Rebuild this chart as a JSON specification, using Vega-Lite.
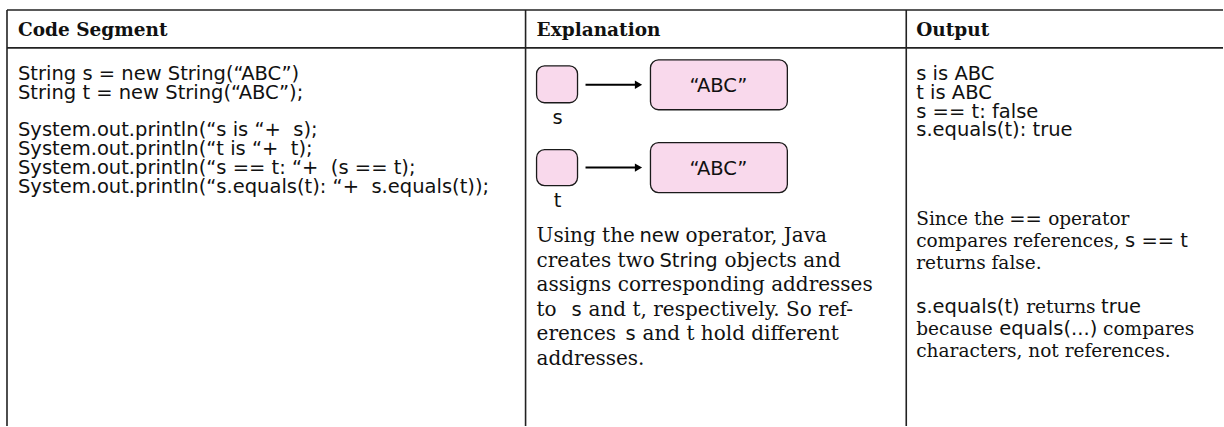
{
  "$schema": "https://vega.github.io/schema/vega-lite/v6.json",
  "width": 1224,
  "height": 427,
  "padding": 0,
  "autosize": {"type": "fit", "contains": "padding"},
  "background": "white",
  "config": {"view": {"stroke": null}},
  "datasets": {
    "grid": [
      {"x": 7, "x2": 1224, "y": 10, "y2": 10},
      {"x": 7, "x2": 1224, "y": 48, "y2": 48},
      {"x": 7, "x2": 7, "y": 10, "y2": 427},
      {"x": 526, "x2": 526, "y": 10, "y2": 427},
      {"x": 907, "x2": 907, "y": 10, "y2": 427}
    ],
    "boxes": [
      {"x": 537, "x2": 578, "y": 66, "y2": 103, "kind": "ref"},
      {"x": 537, "x2": 578, "y": 150, "y2": 186, "kind": "ref"},
      {"x": 651, "x2": 788, "y": 60, "y2": 110, "kind": "obj"},
      {"x": 651, "x2": 788, "y": 143, "y2": 193, "kind": "obj"}
    ],
    "arrows": [
      {"x": 586, "x2": 636, "y": 85, "hx": 639},
      {"x": 586, "x2": 636, "y": 168, "hx": 639}
    ],
    "texts": [
      {"x": 18, "y": 36, "text": "Code Segment", "role": "head"},
      {"x": 537, "y": 36, "text": "Explanation", "role": "head"},
      {"x": 917, "y": 36, "text": "Output", "role": "head"},
      {"x": 18, "y": 80, "text": "String s = new String(“ABC”)", "role": "code"},
      {"x": 18, "y": 99, "text": "String t = new String(“ABC”);", "role": "code"},
      {"x": 18, "y": 136, "text": "System.out.println(“s is “+\u00a0 s);", "role": "code"},
      {"x": 18, "y": 155, "text": "System.out.println(“t is “+\u00a0 t);", "role": "code"},
      {"x": 18, "y": 174, "text": "System.out.println(“s == t: “+\u00a0 (s == t);", "role": "code"},
      {"x": 18, "y": 193, "text": "System.out.println(“s.equals(t): “+\u00a0 s.equals(t));", "role": "code"},
      {"x": 917, "y": 80, "text": "s is ABC", "role": "code"},
      {"x": 917, "y": 99, "text": "t is ABC", "role": "code"},
      {"x": 917, "y": 118, "text": "s == t: false", "role": "code"},
      {"x": 917, "y": 136, "text": "s.equals(t): true", "role": "code"},
      {"x": 719, "y": 92, "text": "“ABC”", "role": "label"},
      {"x": 719, "y": 175, "text": "“ABC”", "role": "label"},
      {"x": 558, "y": 124, "text": "s", "role": "label"},
      {"x": 558, "y": 207, "text": "t", "role": "label"},
      {"x": 537, "y": 243, "text": "Using the", "role": "para"},
      {"x": 640, "y": 243, "text": "new", "role": "paraCode"},
      {"x": 686, "y": 243, "text": "operator, Java", "role": "para"},
      {"x": 537, "y": 268, "text": "creates two", "role": "para"},
      {"x": 660, "y": 268, "text": "String", "role": "paraCode"},
      {"x": 725, "y": 268, "text": "objects and", "role": "para"},
      {"x": 537, "y": 292, "text": "assigns corresponding addresses", "role": "para"},
      {"x": 537, "y": 317, "text": "to", "role": "para"},
      {"x": 572, "y": 317, "text": "s", "role": "paraCode"},
      {"x": 589, "y": 317, "text": "and t, respectively. So ref-", "role": "para"},
      {"x": 537, "y": 341, "text": "erences", "role": "para"},
      {"x": 626, "y": 341, "text": "s", "role": "paraCode"},
      {"x": 643, "y": 341, "text": "and t hold different", "role": "para"},
      {"x": 537, "y": 366, "text": "addresses.", "role": "para"},
      {"x": 917, "y": 226, "text": "Since the", "role": "note"},
      {"x": 1010, "y": 226, "text": "==", "role": "noteCode"},
      {"x": 1049, "y": 226, "text": "operator", "role": "note"},
      {"x": 917, "y": 248, "text": "compares references,", "role": "note"},
      {"x": 1126, "y": 248, "text": "s == t", "role": "noteCode"},
      {"x": 917, "y": 270, "text": "returns false.", "role": "note"},
      {"x": 917, "y": 314, "text": "s.equals(t)", "role": "noteCode"},
      {"x": 1027, "y": 314, "text": "returns", "role": "note"},
      {"x": 1102, "y": 314, "text": "true", "role": "noteCode"},
      {"x": 917, "y": 336, "text": "because", "role": "note"},
      {"x": 1000, "y": 336, "text": "equals(...)", "role": "noteCode"},
      {"x": 1104, "y": 336, "text": "compares", "role": "note"},
      {"x": 917, "y": 358, "text": "characters, not references.", "role": "note"}
    ]
  },
  "layer": [
    {
      "data": {"name": "grid"},
      "mark": {"type": "rule", "stroke": "#222222", "strokeWidth": 1.6},
      "encoding": {
        "x": {"field": "x", "type": "quantitative", "scale": {"domain": [0, 1224], "nice": false, "zero": false}, "axis": null},
        "x2": {"field": "x2"},
        "y": {"field": "y", "type": "quantitative", "scale": {"domain": [0, 427], "nice": false, "zero": false, "reverse": true}, "axis": null},
        "y2": {"field": "y2"}
      }
    },
    {
      "data": {"name": "boxes"},
      "mark": {"type": "rect", "fill": "#f9d9ec", "stroke": "#1a1a1a", "strokeWidth": 1.3, "cornerRadius": 8},
      "encoding": {
        "x": {"field": "x", "type": "quantitative"},
        "x2": {"field": "x2"},
        "y": {"field": "y", "type": "quantitative"},
        "y2": {"field": "y2"}
      }
    },
    {
      "data": {"name": "arrows"},
      "mark": {"type": "rule", "stroke": "#000000", "strokeWidth": 2},
      "encoding": {
        "x": {"field": "x", "type": "quantitative"},
        "x2": {"field": "x2"},
        "y": {"field": "y", "type": "quantitative"}
      }
    },
    {
      "data": {"name": "arrows"},
      "mark": {"type": "point", "shape": "triangle-right", "filled": true, "color": "#000000", "size": 70, "opacity": 1},
      "encoding": {
        "x": {"field": "hx", "type": "quantitative"},
        "y": {"field": "y", "type": "quantitative"}
      }
    },
    {
      "data": {"name": "texts"},
      "transform": [{"filter": "datum.role === 'head'"}],
      "mark": {"type": "text", "align": "left", "baseline": "alphabetic", "font": "DejaVu Serif", "fontWeight": "bold", "fontSize": 18.5, "color": "#111111"},
      "encoding": {
        "x": {"field": "x", "type": "quantitative"},
        "y": {"field": "y", "type": "quantitative"},
        "text": {"field": "text"}
      }
    },
    {
      "data": {"name": "texts"},
      "transform": [{"filter": "datum.role === 'code'"}],
      "mark": {"type": "text", "align": "left", "baseline": "alphabetic", "font": "DejaVu Sans", "fontSize": 19.5, "color": "#111111"},
      "encoding": {
        "x": {"field": "x", "type": "quantitative"},
        "y": {"field": "y", "type": "quantitative"},
        "text": {"field": "text"}
      }
    },
    {
      "data": {"name": "texts"},
      "transform": [{"filter": "datum.role === 'label'"}],
      "mark": {"type": "text", "align": "center", "baseline": "alphabetic", "font": "DejaVu Sans", "fontSize": 19.5, "color": "#111111"},
      "encoding": {
        "x": {"field": "x", "type": "quantitative"},
        "y": {"field": "y", "type": "quantitative"},
        "text": {"field": "text"}
      }
    },
    {
      "data": {"name": "texts"},
      "transform": [{"filter": "datum.role === 'para'"}],
      "mark": {"type": "text", "align": "left", "baseline": "alphabetic", "font": "DejaVu Serif", "fontSize": 20, "color": "#111111"},
      "encoding": {
        "x": {"field": "x", "type": "quantitative"},
        "y": {"field": "y", "type": "quantitative"},
        "text": {"field": "text"}
      }
    },
    {
      "data": {"name": "texts"},
      "transform": [{"filter": "datum.role === 'paraCode'"}],
      "mark": {"type": "text", "align": "left", "baseline": "alphabetic", "font": "DejaVu Sans", "fontSize": 19.5, "color": "#111111"},
      "encoding": {
        "x": {"field": "x", "type": "quantitative"},
        "y": {"field": "y", "type": "quantitative"},
        "text": {"field": "text"}
      }
    },
    {
      "data": {"name": "texts"},
      "transform": [{"filter": "datum.role === 'note'"}],
      "mark": {"type": "text", "align": "left", "baseline": "alphabetic", "font": "DejaVu Serif", "fontSize": 18.5, "color": "#111111"},
      "encoding": {
        "x": {"field": "x", "type": "quantitative"},
        "y": {"field": "y", "type": "quantitative"},
        "text": {"field": "text"}
      }
    },
    {
      "data": {"name": "texts"},
      "transform": [{"filter": "datum.role === 'noteCode'"}],
      "mark": {"type": "text", "align": "left", "baseline": "alphabetic", "font": "DejaVu Sans", "fontSize": 19.5, "color": "#111111"},
      "encoding": {
        "x": {"field": "x", "type": "quantitative"},
        "y": {"field": "y", "type": "quantitative"},
        "text": {"field": "text"}
      }
    }
  ]
}
